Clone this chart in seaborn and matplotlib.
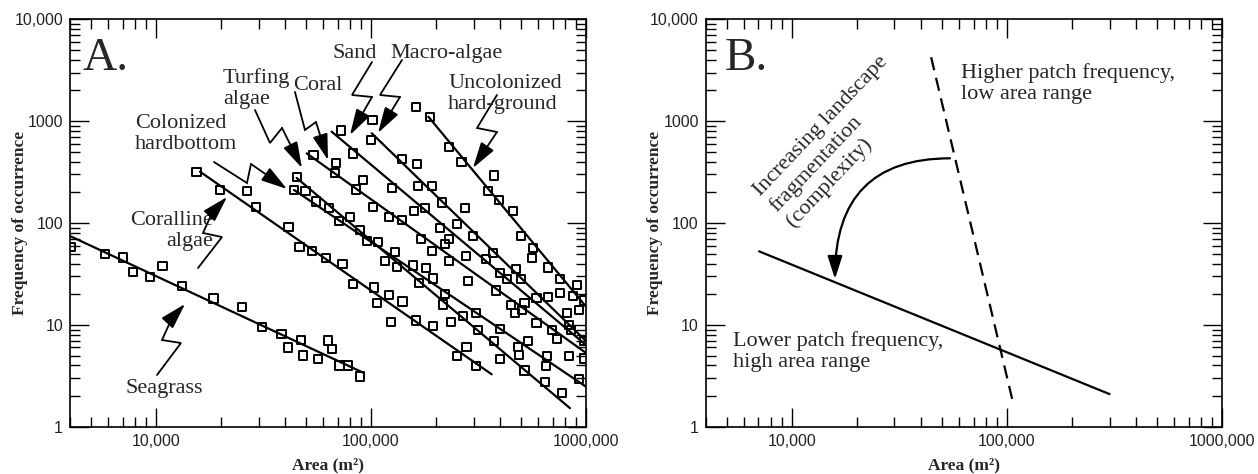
import numpy as np
import pandas as pd
import matplotlib
matplotlib.use('Agg')
import matplotlib.pyplot as plt
from matplotlib.ticker import FixedLocator, LogLocator, NullFormatter
import seaborn as sns

#%% data
seagrass_area = [4010, 5790, 7000, 7800, 9380, 10740, 13240, 18530, 25180, 31190,
                 38370, 41210, 47100, 48420, 56890, 63240, 66070, 71290, 78340, 88920]
seagrass_freq = [58.5, 49.6, 46, 32.8, 29.5, 37.8, 24, 18.1, 15, 9.5,
                 8.1, 6.0, 7.1, 5.0, 4.6, 7.0, 5.8, 4.0, 4.0, 3.1]

coralline_area = [15450, 19860, 26420, 29110, 41400, 46560, 53210, 61800, 73620, 82220,
                  103300, 121600, 106900, 140300, 123900, 161400, 193600, 250600, 278600, 306900]
coralline_freq = [315, 211, 206, 144, 92, 58, 53.4, 45.6, 39.8, 25.2,
                  23.2, 19.6, 16.3, 16.9, 10.7, 11, 9.75, 4.94, 6.02, 3.97]

colonized_area = [43850, 55380, 70990, 95810, 107500, 129300, 116200, 156800, 180200,
                  194900, 220200, 308800, 396800, 484200, 538900, 649400, 927700]
colonized_freq = [211, 162, 104.6, 67, 65.5, 52.3, 42.6, 38.4, 36.4,
                  28.6, 20.2, 13, 9.04, 6.02, 6.94, 3.94, 2.94]

turfing_area = [45120, 49580, 63640, 79850, 88880, 131700, 166700, 216200, 234800,
                267900, 314500, 374500, 396800, 489400, 518500, 646600, 773500]
turfing_freq = [283, 206, 141, 113.8, 85.4, 37.2, 25.6, 15.9, 10.7,
                12.3, 8.9, 6.9, 4.62, 5.06, 3.55, 2.75, 2.13]

coral_area = [54030, 68750, 68160, 92090, 84870, 102500, 121600, 138900, 170300, 221600,
              192200, 231300, 282600, 380200, 447900, 466000, 503700, 660700, 836100, 982000]
coral_freq = [465, 391, 310, 264, 214, 144.5, 115.3, 107, 70.1, 62.6,
              53.5, 42.4, 27.1, 21.8, 15.7, 13, 14, 4.95, 4.98, 4.69]

sand_area = [72530, 82500, 124800, 178300, 158000, 210100, 231300, 277500, 396800,
             429100, 518500, 589600, 697000, 735300, 589600]
sand_freq = [809, 483, 219, 141.3, 131, 89.3, 69.2, 47.4, 32.1,
             28, 16.3, 10.4, 8.9, 7.26, 18.3]

macro_area = [101800, 100000, 139800, 164200, 192200, 164900, 214600, 272800, 252000, 299100,
              341600, 369300, 471000, 498400, 836100, 848700, 985000, 813200, 667800]
macro_freq = [1026, 653, 422, 380, 232, 232, 159, 139.4, 98.4, 74.6,
              44.6, 50.7, 35.4, 28.2, 9.97, 8.9, 6.94, 13, 18.9]

uncol_area = [161900, 188100, 231300, 263600, 374500, 351200, 393800, 459000, 498400,
              566700, 560700, 663500, 759600, 905000, 872700, 982000, 930700, 759600]
uncol_freq = [1387, 1091, 561, 397, 293, 206, 167, 131, 74.6,
              57.2, 45, 36.7, 28, 24.8, 19.2, 17.4, 14, 20.4]

# fitted power-law lines: (start, end)
fit_area = {'Seagrass': [3981, 92000], 'Coralline algae': [16020, 364200],
            'Colonized hardbottom': [43850, 1000000], 'Turfing algae': [45100, 842500],
            'Coral': [50230, 1000000], 'Sand': [65640, 1000000],
            'Macro-algae': [100800, 989000], 'Uncolonized hard-ground': [184800, 1000000]}
fit_freq = {'Seagrass': [74.5, 3.39], 'Coralline algae': [319, 3.27],
            'Colonized hardbottom': [211, 2.47], 'Turfing algae': [277, 1.52],
            'Coral': [483, 5.3], 'Sand': [788, 6.34],
            'Macro-algae': [760, 7.1], 'Uncolonized hard-ground': [1107, 15.1]}

# panel B conceptual lines
low_area = [7050, 300000]
low_freq = [52.7, 2.09]
high_area = [44460, 107400]
high_freq = [4240, 1.64]

x_ticks = [1e4, 1e5, 1e6]
x_ticklabels = ['10,000', '100,000', '1000,000']
y_ticks = [1, 10, 100, 1000, 10000]
y_ticklabels = ['1', '10', '100', '1000', '10,000']

#%% tables
groups = [('Seagrass', seagrass_area, seagrass_freq),
          ('Coralline algae', coralline_area, coralline_freq),
          ('Colonized hardbottom', colonized_area, colonized_freq),
          ('Turfing algae', turfing_area, turfing_freq),
          ('Coral', coral_area, coral_freq),
          ('Sand', sand_area, sand_freq),
          ('Macro-algae', macro_area, macro_freq),
          ('Uncolonized hard-ground', uncol_area, uncol_freq)]
pts = pd.concat([pd.DataFrame({'area': a, 'freq': f, 'habitat': h}) for h, a, f in groups])
fits = pd.concat([pd.DataFrame({'area': fit_area[h], 'freq': fit_freq[h], 'habitat': h})
                  for h in fit_area])

#%% style
sns.set_style('ticks')
plt.rcParams['font.family'] = ['Liberation Sans', 'DejaVu Sans']
serif = ['Liberation Serif', 'DejaVu Serif']

fig = plt.figure(figsize=(12.58, 4.74), dpi=100)
axA = fig.add_axes([0.05564, 0.09979, 0.41017, 0.85949])
axB = fig.add_axes([0.56097, 0.09979, 0.41041, 0.85949])


def style_axes(ax):
    ax.set_xscale('log')
    ax.set_yscale('log')
    ax.set_xlim(10 ** 3.6, 1e6)
    ax.set_ylim(1, 1e4)
    ax.xaxis.set_major_locator(FixedLocator(x_ticks))
    ax.set_xticklabels(x_ticklabels)
    ax.yaxis.set_major_locator(FixedLocator(y_ticks))
    ax.set_yticklabels(y_ticklabels)
    ax.xaxis.set_minor_locator(LogLocator(base=10, subs=np.arange(2, 10)))
    ax.yaxis.set_minor_locator(LogLocator(base=10, subs=np.arange(2, 10)))
    ax.xaxis.set_minor_formatter(NullFormatter())
    ax.yaxis.set_minor_formatter(NullFormatter())
    ax.tick_params(which='both', direction='in', top=True, right=True,
                   colors='black', labelcolor='#222222', labelsize=11.5, width=1.0)
    ax.tick_params(which='major', length=14, pad=5)
    ax.tick_params(which='minor', length=7)
    for s in ax.spines.values():
        s.set_linewidth(1.2)
        s.set_color('black')
    ax.set_xlabel('Area (m²)', family=serif, fontweight='bold', fontsize=12.5)
    ax.set_ylabel('Frequency of occurrence', family=serif, fontweight='bold', fontsize=12.5)
    ax.xaxis.set_label_coords(0.5, -0.075)
    ax.yaxis.set_label_coords(-0.082, 0.5)
    ax.yaxis.label.set_verticalalignment('bottom')
    ax.xaxis.label.set_verticalalignment('top')


#%% panel A
sns.lineplot(data=fits, x='area', y='freq', units='habitat', estimator=None,
             color='black', lw=1.6, ax=axA)
sns.scatterplot(data=pts, x='area', y='freq', marker='s', s=36, facecolors='none',
                edgecolor='black', linewidth=1.4, zorder=3, ax=axA)
style_axes(axA)
axA.text(0.025, 0.8755, 'A.', transform=axA.transAxes, family=serif, fontsize=34,
         ha='left', va='baseline')

# habitat labels (axes fraction) and zigzag pointers
labels = [('Seagrass', 0.1066, 0.1171, 'left'),
          ('Coralline\nalgae', 0.2771, 0.5302, 'right'),
          ('Colonized\nhardbottom', 0.126, 0.7675, 'left'),
          ('Turfing\nalgae', 0.2965, 0.8805, 'left'),
          ('Coral', 0.4322, 0.8616, 'left'),
          ('Sand', 0.5097, 0.9394, 'left'),
          ('Macro-algae', 0.6202, 0.9394, 'left'),
          ('Uncolonized\nhard-ground', 0.7326, 0.8657, 'left')]
for txt, x, y, ha in labels:
    axA.text(x, y, txt, transform=axA.transAxes, family=serif, fontsize=16,
             ha=ha, va='top', linespacing=1.14, multialignment=ha)

zigzags = [
    ([0.1686, 0.2151, 0.1783, 0.1977, 0.2229], [0.1269, 0.2054, 0.2128, 0.2668, 0.3012]),
    ([0.2481, 0.2946, 0.2578, 0.2752, 0.3043], [0.3895, 0.4656, 0.4755, 0.5245, 0.5638]),
    ([0.2791, 0.3430, 0.3508, 0.4205], [0.6497, 0.5982, 0.6448, 0.5835]),
    ([0.3585, 0.3876, 0.4109, 0.4496], [0.7774, 0.6964, 0.7332, 0.6350]),
    ([0.4360, 0.4554, 0.4767, 0.5000], [0.8216, 0.7283, 0.7479, 0.6546]),
    ([0.5853, 0.5465, 0.5853, 0.5426], [0.8952, 0.8142, 0.8093, 0.7160]),
    ([0.6434, 0.6008, 0.6395, 0.5969], [0.9001, 0.8142, 0.8093, 0.7209]),
    ([0.8275, 0.7888, 0.8275, 0.7810], [0.8142, 0.7332, 0.7234, 0.6350]),
]
for xs, ys in zigzags:
    axA.plot(xs[:-1], ys[:-1], color='black', lw=1.3, transform=axA.transAxes,
             solid_joinstyle='miter')
    axA.annotate('', xy=(xs[-1], ys[-1]), xytext=(xs[-2], ys[-2]),
                 xycoords='axes fraction', textcoords='axes fraction',
                 arrowprops=dict(arrowstyle='-|>,head_length=1.6,head_width=0.47',
                                 color='black', lw=1.3, shrinkA=0, shrinkB=0))

#%% panel B
sns.lineplot(x=low_area, y=low_freq, color='black', lw=1.6, ax=axB)
sns.lineplot(x=high_area, y=high_freq, color='black', lw=1.6, dashes=False, ax=axB,
             linestyle=(0, (6, 3.5)))
style_axes(axB)
axB.text(0.0374, 0.8755, 'B.', transform=axB.transAxes, family=serif, fontsize=34,
         ha='left', va='baseline')
axB.text(0.495, 0.892, 'Higher patch frequency,\nlow area range', transform=axB.transAxes,
         family=serif, fontsize=16, ha='left', va='top', linespacing=1.14)
axB.text(0.0524, 0.234, 'Lower patch frequency,\nhigh area range', transform=axB.transAxes,
         family=serif, fontsize=16, ha='left', va='top', linespacing=1.14)
axB.text(0.0858, 0.5883, 'Increasing landscape\nfragmentation\n(complexity)',
         transform=axB.transAxes, family=serif, fontsize=16, ha='left', va='top',
         rotation=46.5, rotation_mode='anchor', linespacing=1.19, multialignment='left')
axB.annotate('', xy=(0.2504, 0.3625), xytext=(0.4732, 0.6588),
             xycoords='axes fraction', textcoords='axes fraction',
             arrowprops=dict(arrowstyle='-|>,head_length=1.4,head_width=0.45',
                             connectionstyle='angle3,angleA=0,angleB=90',
                             color='black', lw=1.6, shrinkA=0, shrinkB=0))

fig.savefig('out.png', dpi=100)
